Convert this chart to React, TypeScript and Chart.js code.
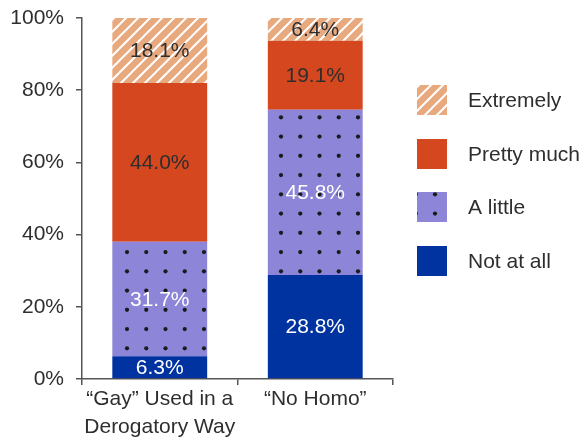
import React, { useEffect, useRef } from "react";
import { Chart, registerables } from "chart.js";

Chart.register(...registerables);

const categories: string[][] = [["\u201CGay\u201D Used in a", "Derogatory Way"], ["\u201CNo Homo\u201D"]];
const seriesNames = ["Not at all", "A little", "Pretty much", "Extremely"];
const notAtAll = [6.3, 28.8];
const aLittle = [31.7, 45.8];
const prettyMuch = [44.0, 19.1];
const extremely = [18.1, 6.4];
const yTicks = [0, 20, 40, 60, 80, 100];

const FONT = "'Liberation Sans', Arial, sans-serif";
const TEXT = "#2e2e2e";
const AXIS = "#555555";

function hatchPattern(): CanvasPattern | string {
  const c = document.createElement("canvas");
  const s = 12;
  c.width = s;
  c.height = s;
  const g = c.getContext("2d")!;
  g.fillStyle = "#E8A97E";
  g.fillRect(0, 0, s, s);
  g.strokeStyle = "#ffffff";
  g.lineWidth = 2;
  g.beginPath();
  g.moveTo(-s / 2, s / 2);
  g.lineTo(s / 2, -s / 2);
  g.moveTo(0, s);
  g.lineTo(s, 0);
  g.moveTo(s / 2, s * 1.5);
  g.lineTo(s * 1.5, s / 2);
  g.stroke();
  return g.createPattern(c, "repeat") || "#E8A97E";
}

function dotPattern(): CanvasPattern | string {
  const c = document.createElement("canvas");
  const s = 77;
  const step = 19.25;
  const r = 2.1;
  c.width = s;
  c.height = s;
  const g = c.getContext("2d")!;
  g.fillStyle = "#8C85D8";
  g.fillRect(0, 0, s, s);
  g.fillStyle = "#1a1a1a";
  for (let i = 0; i < 4; i++) {
    for (let j = 0; j < 4; j++) {
      g.beginPath();
      g.arc(11.5 + i * step, 1.8 + j * step, r, 0, Math.PI * 2);
      g.fill();
      if (j === 0) {
        g.beginPath();
        g.arc(11.5 + i * step, 1.8 + s, r, 0, Math.PI * 2);
        g.fill();
      }
    }
  }
  return g.createPattern(c, "repeat") || "#8C85D8";
}

export default function App() {
  const ref = useRef<HTMLCanvasElement | null>(null);
  useEffect(() => {
    if (!ref.current) return;
    const fills = ["#0033A0", dotPattern(), "#D4471F", hatchPattern()];
    const labelColors = ["#ffffff", "#ffffff", TEXT, TEXT];
    const values = [notAtAll, aLittle, prettyMuch, extremely];

    const valueLabels = {
      id: "valueLabels",
      afterDatasetsDraw(chart: any) {
        const ctx = chart.ctx;
        const area = chart.chartArea;
        ctx.save();
        ctx.font = `21px ${FONT}`;
        ctx.textAlign = "center";
        ctx.textBaseline = "middle";
        chart.data.datasets.forEach((ds: any, di: number) => {
          const meta = chart.getDatasetMeta(di);
          meta.data.forEach((el: any, i: number) => {
            const top = Math.max(el.y, area.top);
            const y = (top + el.base) / 2;
            ctx.fillStyle = labelColors[di];
            ctx.fillText(ds.data[i].toFixed(1) + "%", el.x, y + 1);
          });
        });
        ctx.restore();
      },
    };

    const customLegend = {
      id: "customLegend",
      afterDraw(chart: any) {
        const ctx = chart.ctx;
        ctx.save();
        const x0 = 417;
        const ys = [85, 139, 192, 246];
        const order = [3, 2, 1, 0];
        ctx.font = `21px ${FONT}`;
        ctx.textBaseline = "middle";
        ctx.textAlign = "left";
        order.forEach((di, k) => {
          const y = ys[k];
          ctx.fillStyle = fills[di];
          ctx.fillRect(x0, y, 30, 30);
          ctx.fillStyle = TEXT;
          ctx.fillText(seriesNames[di], 468, y + 16);
        });
        ctx.restore();
      },
    };

    const chart = new Chart(ref.current, {
      type: "bar",
      data: {
        labels: categories as any,
        datasets: seriesNames.map((name, i) => ({
          label: name,
          data: values[i],
          backgroundColor: fills[i] as any,
          borderWidth: 0,
          barPercentage: 0.61,
          categoryPercentage: 1,
        })),
      },
      options: {
        animation: false,
        responsive: true,
        maintainAspectRatio: false,
        layout: { padding: { top: 18, right: 187, left: 0, bottom: 0 } },
        plugins: { legend: { display: false }, tooltip: { enabled: false } },
        scales: {
          x: {
            stacked: true,
            grid: {
              offset: true,
              drawOnChartArea: false,
              drawTicks: true,
              tickLength: 6,
              color: AXIS,
              lineWidth: 1.5,
            },
            border: { display: true, color: AXIS, width: 1.5 },
            ticks: {
              color: TEXT,
              font: { family: FONT, size: 21, lineHeight: 1.33 },
              padding: 0,
              maxRotation: 0,
              autoSkip: false,
            },
            afterFit(scale: any) {
              scale.height = 61;
              scale.paddingLeft = 0;
              scale.paddingRight = 0;
            },
          },
          y: {
            stacked: true,
            min: 0,
            max: 100,
            afterBuildTicks(scale: any) {
              scale.ticks = yTicks.map((v) => ({ value: v }));
            },
            grid: {
              drawOnChartArea: false,
              drawTicks: true,
              tickLength: 6,
              color: AXIS,
              lineWidth: 1.5,
            },
            border: { display: true, color: AXIS, width: 1.5 },
            ticks: {
              color: TEXT,
              font: { family: FONT, size: 21 },
              padding: 12,
              callback: (v: any) => v + "%",
            },
            afterFit(scale: any) {
              scale.width = 82;
              scale.paddingTop = 0;
              scale.paddingBottom = 0;
            },
          },
        },
      },
      plugins: [valueLabels, customLegend],
    });
    return () => chart.destroy();
  }, []);
  return (
    <div style={{ position: "fixed", left: 0, top: 0, width: 580, height: 440 }}>
      <canvas ref={ref} />
    </div>
  );
}
